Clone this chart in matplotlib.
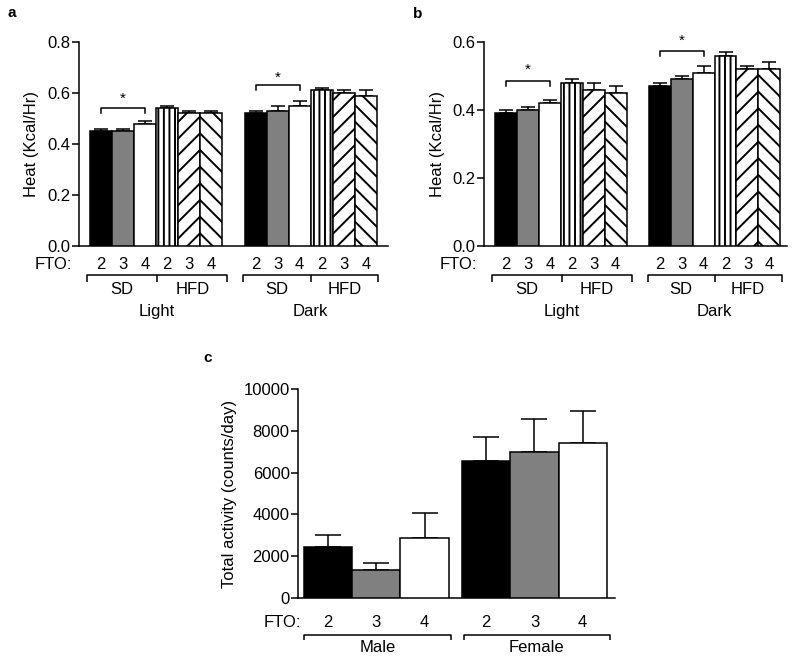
import matplotlib
matplotlib.use('Agg')
import matplotlib.pyplot as plt
import matplotlib.transforms as mtransforms
from matplotlib.ticker import FormatStrFormatter
import numpy as np

plt.rcParams['font.family'] = ['Liberation Sans', 'DejaVu Sans']
plt.rcParams['font.size'] = 12
plt.rcParams['hatch.linewidth'] = 1.4
plt.rcParams['axes.linewidth'] = 1.1

# ---------------- data ----------------
fto_labels = ['2', '3', '4']
diet_labels = ['SD', 'HFD']
period_labels = ['Light', 'Dark']
sex_labels = ['Male', 'Female']

a_light = [0.45, 0.45, 0.48, 0.54, 0.52, 0.52]
a_light_err = [0.01, 0.01, 0.01, 0.01, 0.01, 0.01]
a_dark = [0.52, 0.53, 0.55, 0.61, 0.60, 0.59]
a_dark_err = [0.01, 0.02, 0.02, 0.01, 0.01, 0.02]

b_light = [0.39, 0.40, 0.42, 0.48, 0.46, 0.45]
b_light_err = [0.01, 0.01, 0.01, 0.01, 0.02, 0.02]
b_dark = [0.47, 0.49, 0.51, 0.56, 0.52, 0.52]
b_dark_err = [0.01, 0.01, 0.02, 0.01, 0.01, 0.02]

c_male = [2450, 1330, 2850]
c_male_err = [560, 340, 1210]
c_female = [6570, 7000, 7420]
c_female_err = [1130, 1560, 1510]

# ---------------- styles ----------------
heat_styles = [('black', ''), ('#808080', ''), ('white', ''),
               ('white', '|||'), ('white', '//'), ('white', '\\\\')]
act_styles = [('black', ''), ('#808080', ''), ('white', '')]
LW = 1.1

fig = plt.figure(figsize=(8, 6.6), dpi=100)
FW, FH = 800, 660


def make_ax(l, t, r, b):
    return fig.add_axes([l / FW, 1 - b / FH, (r - l) / FW, (b - t) / FH])


def style_ax(ax):
    ax.spines['top'].set_visible(False)
    ax.spines['right'].set_visible(False)
    ax.set_xticks([])
    ax.tick_params(axis='y', length=5, width=LW, pad=1, labelsize=12)


def draw_bars(ax, pos, vals, errs, styles, capsize):
    for p, v, e, (fc, h) in zip(pos, vals, errs, styles):
        ax.errorbar([p], [v], yerr=[[0], [e]], fmt='none', ecolor='black',
                    elinewidth=LW, capsize=capsize, capthick=LW, zorder=2)
        ax.bar([p], [v], width=1.0, color=fc, edgecolor='black', hatch=h,
               linewidth=LW, zorder=3)


def px_below(ax, px):
    h = ax.get_position().height * FH
    return -px / h


def bracket(ax, trans, x0, x1, y_line, y_tick, mids=()):
    ax.plot([x0, x0, x1, x1], [y_tick, y_line, y_line, y_tick], color='black',
            lw=LW, transform=trans, clip_on=False, solid_capstyle='butt')
    for m in mids:
        ax.plot([m, m], [y_line, y_tick], color='black', lw=LW,
                transform=trans, clip_on=False, solid_capstyle='butt')


def sig(ax, x0, x1, lo, hi, star_y):
    ax.plot([x0, x0, x1, x1], [lo, hi, hi, lo], color='black', lw=LW,
            clip_on=False, zorder=4)
    ax.text((x0 + x1) / 2, star_y, '*', ha='center', va='center',
            fontsize=11, clip_on=False)


def heat_panel(ax, light, light_err, dark, dark_err, ymax, yticks, xmax,
               sig_light, sig_dark, label):
    lpos = np.arange(6)
    dpos = np.arange(6) + 7
    draw_bars(ax, lpos, light, light_err, heat_styles, 4.7)
    draw_bars(ax, dpos, dark, dark_err, heat_styles, 4.7)
    ax.set_xlim(-1.0, xmax)
    ax.set_ylim(0, ymax)
    ax.set_yticks(yticks)
    ax.yaxis.set_major_formatter(FormatStrFormatter('%.1f'))
    style_ax(ax)
    ax.set_ylabel('Heat (Kcal/Hr)', fontsize=12)
    ax.yaxis.set_label_coords(label, 0.5)
    sig(ax, 0, 2, *sig_light)
    sig(ax, 7, 9, *sig_dark)

    trans = mtransforms.blended_transform_factory(ax.transData, ax.transAxes)
    y_num = px_below(ax, 18)
    for i, p in enumerate(list(lpos) + list(dpos)):
        ax.text(p, y_num, fto_labels[i % 3], ha='center', va='center',
                transform=trans, fontsize=12)
    ax.text(-7 / (ax.get_position().width * FW), y_num, 'FTO:', ha='right',
            va='center', transform=ax.transAxes, fontsize=12)
    y_line = px_below(ax, 28.5)
    y_tick = px_below(ax, 36)
    spans = [(-0.63, 2.55, 5.72), (6.45, 9.5, 12.55)]
    y_diet = px_below(ax, 43.5)
    y_per = px_below(ax, 65.5)
    for (s0, sm, s1), per in zip(spans, period_labels):
        bracket(ax, trans, s0, s1, y_line, y_tick, mids=(sm,))
        ax.text((s0 + sm) / 2, y_diet, diet_labels[0], ha='center',
                va='center', transform=trans, fontsize=12)
        ax.text((sm + s1) / 2, y_diet, diet_labels[1], ha='center',
                va='center', transform=trans, fontsize=12)
        ax.text((s0 + s1) / 2, y_per, per, ha='center', va='center',
                transform=trans, fontsize=12)


# ---------------- panel a ----------------
axa = make_ax(79, 42, 388, 246)
heat_panel(axa, a_light, a_light_err, a_dark, a_dark_err, 0.8,
           [0.0, 0.2, 0.4, 0.6, 0.8], 13.0,
           (0.52, 0.542, 0.578), (0.61, 0.633, 0.66), -0.129)

# ---------------- panel b ----------------
axb = make_ax(484, 42, 787, 246)
heat_panel(axb, b_light, b_light_err, b_dark, b_dark_err, 0.6,
           [0.0, 0.2, 0.4, 0.6], 12.8,
           (0.47, 0.485, 0.517), (0.558, 0.575, 0.605), -0.129)

# ---------------- panel c ----------------
axc = make_ax(298, 389, 615, 598)
mpos = np.arange(3)
fpos = np.arange(3) + 3.28
draw_bars(axc, mpos, c_male, c_male_err, act_styles, 9.4)
draw_bars(axc, fpos, c_female, c_female_err, act_styles, 9.4)
axc.set_xlim(-0.624, 5.95)
axc.set_ylim(0, 10000)
axc.set_yticks([0, 2000, 4000, 6000, 8000, 10000])
style_ax(axc)
axc.set_ylabel('Total activity (counts/day)', fontsize=12)
axc.yaxis.set_label_coords(-0.192, 0.5)
transc = mtransforms.blended_transform_factory(axc.transData, axc.transAxes)
yn = px_below(axc, 24.5)
for i, p in enumerate(list(mpos) + list(fpos)):
    axc.text(p, yn, fto_labels[i % 3], ha='center', va='center',
             transform=transc, fontsize=12)
axc.text(3 / (axc.get_position().width * FW), yn, 'FTO:', ha='right',
         va='center', transform=axc.transAxes, fontsize=12)
yl = px_below(axc, 37)
yt = px_below(axc, 41.5)
ys = px_below(axc, 50)
for (s0, s1), lab in zip([(-0.5, 2.54), (2.81, 5.84)], sex_labels):
    bracket(axc, transc, s0, s1, yl, yt)
    axc.text((s0 + s1) / 2, ys, lab, ha='center', va='center',
             transform=transc, fontsize=12)

# ---------------- panel letters ----------------
fig.text(7 / FW, 1 - 17 / FH, 'a', fontsize=11, fontweight='bold',
         va='baseline')
fig.text(413 / FW, 1 - 18 / FH, 'b', fontsize=11, fontweight='bold',
         va='baseline')
fig.text(203 / FW, 1 - 362 / FH, 'c', fontsize=11, fontweight='bold',
         va='baseline')

fig.savefig('out.png', dpi=100)
